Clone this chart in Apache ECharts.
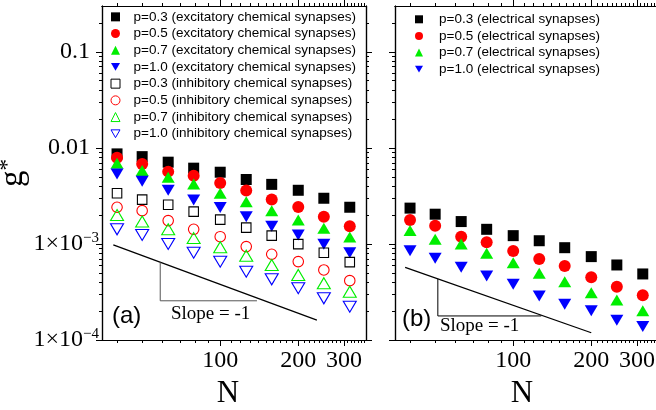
<!DOCTYPE html>
<html><head><meta charset="utf-8">
<script src="https://cdn.jsdelivr.net/npm/echarts@6/dist/echarts.min.js"></script>
<style>html,body{margin:0;padding:0;background:#fff}#c{width:656px;height:410px}</style>
</head><body><div id="c"></div>
<script>
// ---- data ----
const N = [40, 50, 63, 79, 100, 126, 158, 200, 251, 316];
const excP03 = [0.00866, 0.00811, 0.0071, 0.00615, 0.00558, 0.00469, 0.00417, 0.00362, 0.00299, 0.00241];
const excP05 = [0.00791, 0.00678, 0.00566, 0.00513, 0.00431, 0.00360, 0.00291, 0.00243, 0.00192, 0.00153];
const excP07 = [0.00694, 0.00581, 0.00495, 0.00422, 0.00337, 0.00275, 0.00222, 0.00178, 0.00146, 0.00118];
const excP10 = [0.00536, 0.00450, 0.00362, 0.00287, 0.00240, 0.00192, 0.00153, 0.00124, 0.00099, 0.00081];
const inhP03 = [0.00337, 0.00289, 0.00256, 0.00217, 0.00179, 0.00148, 0.00122, 0.000995, 0.00081, 0.000646];
const inhP05 = [0.00241, 0.00222, 0.00175, 0.00142, 0.00119, 0.000938, 0.000781, 0.000655, 0.000536, 0.000415];
const inhP07 = [0.00200, 0.00171, 0.00142, 0.00115, 0.000925, 0.000755, 0.000604, 0.000475, 0.00039, 0.000318];
const inhP10 = [0.00142, 0.00124, 0.00100, 0.000812, 0.000653, 0.000514, 0.000428, 0.000346, 0.000272, 0.000222];
const eleP03 = [0.00236, 0.00204, 0.00171, 0.00142, 0.00122, 0.00108, 0.000914, 0.000738, 0.000604, 0.000487];
const eleP05 = [0.00178, 0.00155, 0.00119, 0.00104, 0.000845, 0.000698, 0.00059, 0.00045, 0.000359, 0.000292];
const eleP07 = [0.00138, 0.00112, 0.00100, 0.00080, 0.000638, 0.000495, 0.000405, 0.000311, 0.000261, 0.000202];
const eleP10 = [0.000851, 0.00071, 0.000571, 0.000464, 0.00038, 0.000287, 0.000236, 0.000202, 0.000161, 0.000138];

// slope = -1 guides (data coordinates)
const slopeA = [[38.7, 0.00098], [236, 0.000161]];
const triA = [[58.7, 0.000643], [58.7, 0.000256], [138.6, 0.000256]];
const slopeB = [[38.3, 0.000571], [200, 0.000119]];
const triB = [[51.2, 0.000433], [51.2, 0.000178], [128.3, 0.000178]];

// tick labels
const xTickLabels = [100, 200, 300];
const yTickValues = [1e-4, 1e-3, 0.01, 0.1];
const yTickBase = ['1×10', '1×10', '0.01', '0.1'];
const yTickExp = ['−4', '−3', '', ''];

const namesLeft = [
  'p=0.3 (excitatory chemical synapses)', 'p=0.5 (excitatory chemical synapses)',
  'p=0.7 (excitatory chemical synapses)', 'p=1.0 (excitatory chemical synapses)',
  'p=0.3 (inhibitory chemical synapses)', 'p=0.5 (inhibitory chemical synapses)',
  'p=0.7 (inhibitory chemical synapses)', 'p=1.0 (inhibitory chemical synapses)'];
const namesRight = ['p=0.3 (electrical synapses)', 'p=0.5 (electrical synapses)',
  'p=0.7 (electrical synapses)', 'p=1.0 (electrical synapses)'];

// ---- chart ----
const SERIF = 'Liberation Serif, Times New Roman, serif';
const SANS = 'Liberation Sans, Arial, sans-serif';
const DOWN = 'path://M0,0L2,0L1,1.732Z';
const XMIN = 35, XMAX = 365, YMIN = 1e-4, YMAX = 0.3;

const xMajor = [100, 200, 300];
const xMinor = [];
for (let v = 40; v <= 360; v += 10) if (xMajor.indexOf(v) < 0) xMinor.push(v);
const yMinor = [];
[1e-4, 1e-3, 1e-2, 1e-1].forEach(d => { for (let k = 2; k <= 9; k++) if (k * d <= YMAX + 1e-12) yMinor.push(k * d); });

const lineStyle = {color: '#000', width: 1.2};
function xAx(grid, pos, ticks, len, labels, name, namePad) {
  return {
    type: 'log', logBase: 10, gridIndex: grid, position: pos, min: XMIN, max: XMAX,
    axisLine: {show: true, onZero: false, lineStyle},
    axisTick: {show: true, inside: false, length: len, customValues: ticks, lineStyle: {color: '#000', width: 1}},
    axisLabel: labels ? {show: true, customValues: labels, margin: 9, color: '#000', fontFamily: SERIF, fontSize: 24} : {show: false},
    splitLine: {show: false}, minorTick: {show: false},
    name: name || '', nameLocation: 'middle', nameGap: 36,
    nameTextStyle: {fontFamily: SERIF, fontSize: 31, color: '#000', padding: [0, namePad || 0, 0, 0]}
  };
}
function yAx(grid, pos, ticks, len, labels) {
  return {
    type: 'log', logBase: 10, gridIndex: grid, position: pos, min: YMIN, max: YMAX,
    axisLine: {show: true, onZero: false, lineStyle},
    axisTick: {show: true, inside: false, length: len, customValues: ticks, lineStyle: {color: '#000', width: 1}},
    axisLabel: labels ? {
      show: true, customValues: yTickValues, margin: 12,
      formatter: v => {
        const i = Math.round(Math.log10(v)) + 4;
        return yTickExp[i] ? '{b|' + yTickBase[i] + '}{s|' + yTickExp[i] + '}' : '{b|' + yTickBase[i] + '}';
      },
      rich: {
        b: {fontFamily: SERIF, fontSize: 24, color: '#000', align: 'left', lineHeight: 26},
        s: {fontFamily: SERIF, fontSize: 15, color: '#000', align: 'left', verticalAlign: 'top', lineHeight: 15, width: 7}
      }
    } : {show: false},
    splitLine: {show: false}, minorTick: {show: false}
  };
}

const xAxes = [], yAxes = [];
[0, 1].forEach(g => {
  xAxes.push(xAx(g, 'bottom', xMinor, 3, xTickLabels, 'N', g === 0 ? 12 : 10));
  xAxes.push(xAx(g, 'bottom', xMajor, 6));
  xAxes.push(xAx(g, 'top', xMinor, 3));
  xAxes.push(xAx(g, 'top', xMajor, 6));
  yAxes.push(yAx(g, 'left', yMinor, 3, g === 0));
  yAxes.push(yAx(g, 'left', yTickValues, 6));
  yAxes.push(yAx(g, 'right', yMinor, 3));
  yAxes.push(yAx(g, 'right', yTickValues, 6));
});
yAxes[0].name = '{g|g}{s|*}';
yAxes[0].nameLocation = 'middle';
yAxes[0].nameRotate = 90;
yAxes[0].nameGap = 60;
yAxes[0].nameTextStyle = {rich: {
  g: {fontFamily: SERIF, fontSize: 33, color: '#000', lineHeight: 34},
  s: {fontFamily: SERIF, fontSize: 23, color: '#000', verticalAlign: 'top', lineHeight: 6}
}};

function sc(grid, name, ys, symbol, size, color, filled) {
  return {
    type: 'scatter', name, xAxisIndex: grid * 4, yAxisIndex: grid * 4,
    data: N.map((n, i) => [n, ys[i]]), symbol, symbolSize: size,
    itemStyle: filled ? {color, borderWidth: 0, opacity: 1} : {color: 'rgba(255,255,255,0)', borderColor: color, borderWidth: 1.1, opacity: 1},
    emphasis: {disabled: true}, z: 3
  };
}
function guide(grid, data, color, width) {
  return {type: 'line', xAxisIndex: grid * 4, yAxisIndex: grid * 4, data, symbol: 'none',
    lineStyle: {color, width}, emphasis: {disabled: true}, silent: true, z: 2};
}

const series = [
  sc(0, namesLeft[0], excP03, 'rect', 11, '#000', true),
  sc(0, namesLeft[1], excP05, 'circle', 12, '#ff0000', true),
  sc(0, namesLeft[2], excP07, 'triangle', [13, 11], '#00ee00', true),
  sc(0, namesLeft[3], excP10, DOWN, [13, 11], '#0000ff', true),
  sc(0, namesLeft[4], inhP03, 'rect', 9.5, '#000', false),
  sc(0, namesLeft[5], inhP05, 'circle', 10.5, '#ff0000', false),
  sc(0, namesLeft[6], inhP07, 'triangle', [13, 11], '#00ee00', false),
  sc(0, namesLeft[7], inhP10, DOWN, [13, 11], '#0000ff', false),
  sc(1, namesRight[0], eleP03, 'rect', 11, '#000', true),
  sc(1, namesRight[1], eleP05, 'circle', 12, '#ff0000', true),
  sc(1, namesRight[2], eleP07, 'triangle', [13, 11], '#00ee00', true),
  sc(1, namesRight[3], eleP10, DOWN, [13, 11], '#0000ff', true),
  guide(0, slopeA, '#000', 1.3), guide(0, triA, '#555', 1),
  guide(1, slopeB, '#000', 1.3), guide(1, triB, '#000', 1)
];

function legItems(names, syms, cols, filled) {
  return names.map((n, i) => ({
    name: n, icon: syms[i],
    itemStyle: filled[i] ? {color: cols[i], borderWidth: 0} : {color: 'rgba(255,255,255,0)', borderColor: cols[i], borderWidth: 1}
  }));
}
const legSyms = ['rect', 'circle', 'triangle', DOWN, 'rect', 'circle', 'triangle', DOWN];
const legCols = ['#000', '#ff0000', '#00ee00', '#0000ff', '#000', '#ff0000', '#00ee00', '#0000ff'];
const legFill = [true, true, true, true, false, false, false, false];

const chart = echarts.init(document.getElementById('c'), null, {renderer: 'canvas'});
chart.setOption({
  animation: false,
  backgroundColor: '#fff',
  grid: [
    {left: 102, top: 6, width: 264, height: 334, containLabel: false, outerBoundsMode: 'none'},
    {left: 395, top: 6, width: 264, height: 334, containLabel: false, outerBoundsMode: 'none'}
  ],
  xAxis: xAxes, yAxis: yAxes,
  legend: [
    {orient: 'vertical', left: 110.5, top: 8.5, itemWidth: 9, itemHeight: 9, itemGap: 0,
     selectedMode: false, padding: 0,
     textStyle: {fontFamily: SANS, fontSize: 13.5, color: '#000', lineHeight: 16.7, padding: [0, 0, 0, 8.5]},
     data: legItems(namesLeft, legSyms, legCols, legFill)},
    {orient: 'vertical', left: 415, top: 11, itemWidth: 8, itemHeight: 8, itemGap: 0,
     selectedMode: false, padding: 0,
     textStyle: {fontFamily: SANS, fontSize: 13.5, color: '#000', lineHeight: 16.6, padding: [0, 0, 0, 11]},
     data: legItems(namesRight, legSyms.slice(0, 4), legCols.slice(0, 4), legFill.slice(0, 4))}
  ],
  graphic: [
    {type: 'text', left: 112, top: 304, style: {text: '(a)', font: '24px ' + SANS, fill: '#000'}},
    {type: 'text', left: 402, top: 307, style: {text: '(b)', font: '24px ' + SANS, fill: '#000'}},
    {type: 'text', left: 171, top: 305, style: {text: 'Slope = -1', font: '19px ' + SERIF, fill: '#000'}},
    {type: 'text', left: 440, top: 317, style: {text: 'Slope = -1', font: '19px ' + SERIF, fill: '#000'}}
  ],
  series
});
</script></body></html>
